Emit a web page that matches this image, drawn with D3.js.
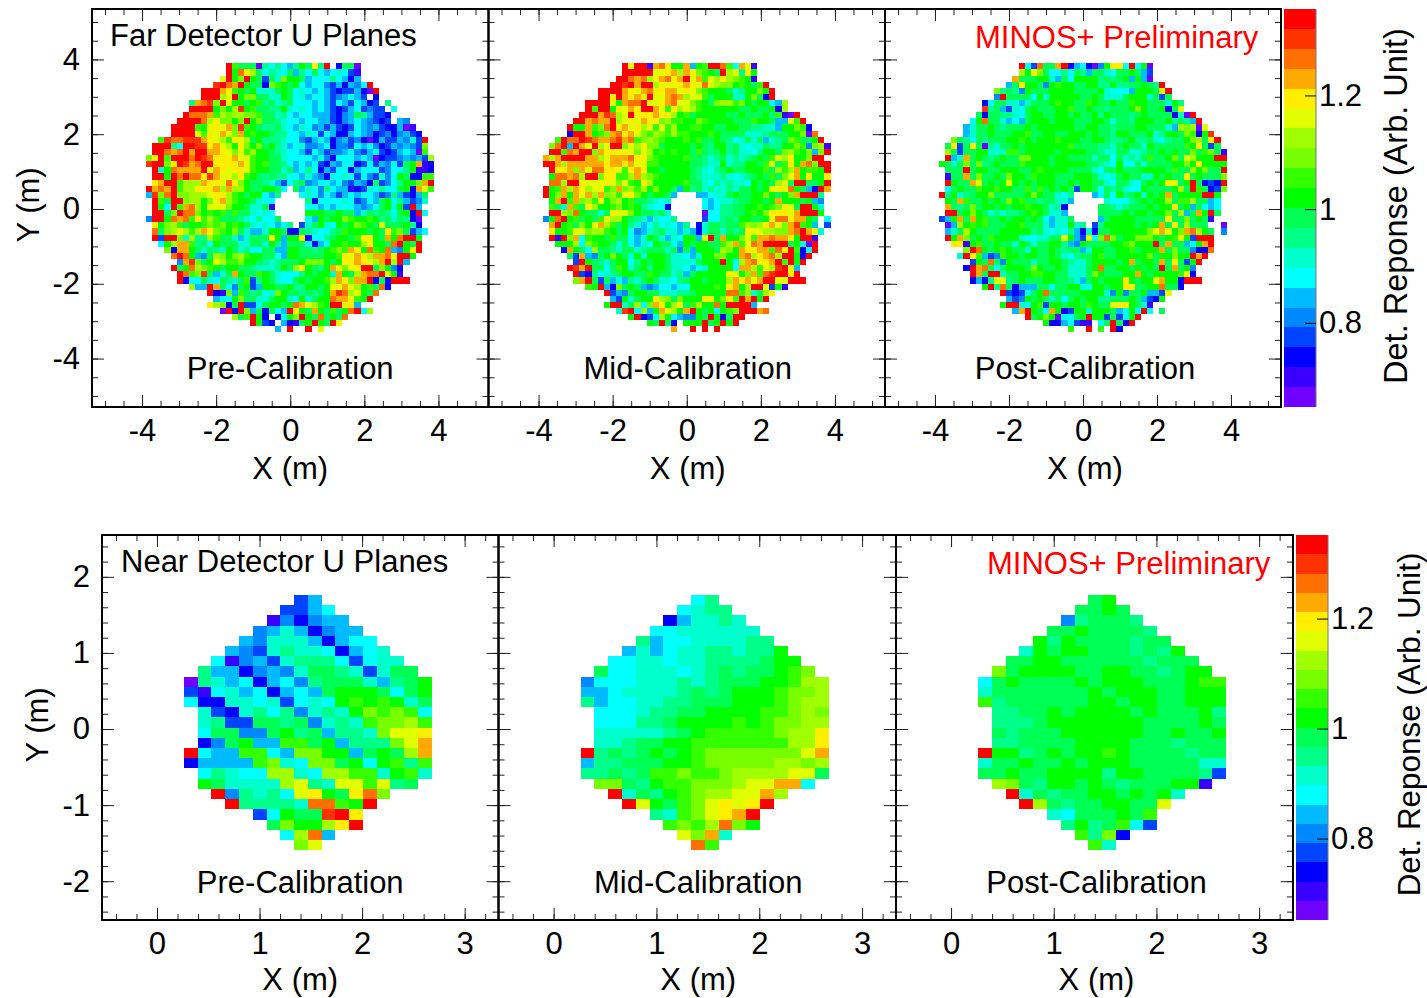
<!DOCTYPE html>
<html>
<head>
<meta charset="utf-8">
<title>MINOS+ calibration</title>
<script src="https://cdn.jsdelivr.net/npm/d3@7"></script>
<style>
    body { margin: 0; background: #fff; }
    text { font-family: "Liberation Sans", Arial, sans-serif; fill: #000; }
</style>
</head>
<body>
<svg id="chart" width="1427" height="998"></svg>
<script>
// colour levels of the z axis, bottom of the palette first
const palette = ['#7000ff', '#3a00ff', '#0000ff', '#0044ff', '#0088ff', '#00bbff', '#00ffff', '#00ffcc', '#00ff88', '#00ff55',
    '#00ff00', '#33ff00', '#77ff00', '#a0ff00', '#e0ff00', '#ffee00', '#ffaa00', '#ff7000', '#ff3300', '#ff0000'];
const levelCodes = 'abcdefghijklmnopqrst'; // one letter per palette level, '.' = no data
const zRange = [0.652, 1.352];
const zTicks = [0.8, 1, 1.2];

const stageNames = ['Pre-Calibration', 'Mid-Calibration', 'Post-Calibration'];

const farXTicks = [-4, -2, 0, 2, 4];
const farYTicks = [-4, -2, 0, 2, 4];
const nearXTicks = [0, 1, 2, 3];
const nearYTicks = [-2, -1, 0, 1, 2];

// top row first (spaces only to help counting columns)
const farPre = [
    '.......... ...tljjjai gigfikjpit .cjja',
    '.......... ...tkrpnjg ihgjfigjgf ghgdb',
    '.......... ..otkmtkjd jhmkkjfggg igfcf',
    '.......... .strqtkjjc mlkjkgfgge dfcfegt',
    '.........t ttqplkjkhh hjkjghgfgf dcddfcat',
    '.........t ttnotkmmjj hhkjghfggf defgfd.c',
    '.......iqr smtokkjkli jhijgggfgf dgfdgfcd.i',
    '.......ttt tkmknskljj iikhghgfgf dcdfgdedd. g',
    '......trrr qlnmnnmmlj jhigfggfff dcefjifddc',
    '.....ttttr npmmkmtkmj jihggfggff dcefgfedcd .fe',
    '....ttttlk opoqmslkji ijhgfhgefd fdcdgfefdc cfab',
    '....ttttol poqomqklkk jiiggfhgdg fccfgfecde cefdc',
    '..lsrrsssq ponlponjki iihggedfgf cefdecacfd dfehdt',
    '.tttigttss pqonkpmkmj kihfgheefg ceedgfgecd fefedm',
    '.ttrqrtqtt qqpomolnkk jihggfdgfd eefgedfgdc dfgfal',
    'mptltttrts rpppqoolkk jjhggggfhe cgggfgfacd defefdn',
    'sttmptsqrt tppppqolkl jjigfgfgdc feggcdgdfe gdjkqbc',
    '.thkrqqqqt oqpoppolkk jjhjfgigcf dggcfgggde ggikbbc',
    '.ttktrtrrp sqoonplkji jiiggfhfec gghgdgedhe gkjccll',
    '.pqttlnnnq pporpmkjji hfdgijefgg fgedfecjde gikkmqt',
    'tqrqtlnnpp pqnqnnkjjk kjg.jfhgei gffbcdhgig gjkcqol',
    'fsmrtmmnnn oppnlkjkkg fi...ghgeg fdfgfggfde ifdcfj',
    '.tljttmnnk mpqnlkkjhg g.....icgg gghgdegfjk gifdeh',
    '.tkgtlqrnk ooomkkjhhj b.....ggfg fgggfefgjk hkdtf',
    '.ttjmtrrmk lkljljjhgh g.....kkkj jkjjfhjiji gjkctg',
    'ettkrqrlpl nljjjihgig gj....gfkj kkmlkklkij hjica',
    '.pkmnljkkl mlmklkjhgh gfgi.dhjkh gkjkmlkjoj jjkic',
    '.rjmnpnlnq pmlkmjhffh kkjccjihgg ijlkkkjkjp lmjdfg',
    '.tdttmhnii nljjhfhjjj pkfkkpcggi jkkjlppkjq krttk',
    '..gknqqlij gkjjjhhjjh kifjjjgcfg kklkknpkkj rtkjt',
    '...mcqqkjh jihkjhiggj jffkkjjijk lmlqpkrlkr fekpt',
    '....rtrkfe jnmkmnlkkj jgfkkjjjjk klpoqpnqqr pttk',
    '.....eqsmj konllmkkji hijjjkmmmk jkppqponqt ntf',
    '....tjkrnm lkjkkjjihh hikjnpkjik qomopttjmk ec',
    '.....trlms jfhjqkjjlk jhgggikjkk hqkjnqrrto kb',
    '.....tcggj hgjihjldik jhggjkjkkl nqpmqqtcjc ttt',
    '.......nff tqjgejkdfk kjjkiikkjk ooqonkljrc',
    '.......... tcbmfljijg hmkjjijijk qsrnokjr',
    '.......... .fggkmjjhh jkkhgkhjkk rqqplkt',
    '.......... pnmcjtddgj kkjkrqonlk ttppf',
    '.......... ..atctmfjc jgftpkjqkj ljkrtgn',
    '.......... ....njltkc .cgkmtkjrj kjr',
    '.......... .......tkd c.fcbjktkj tp',
    '.......... .......... .f.t..t.o.'
];

const farMid = [
    '.......... ...tottbqr pkkqfklttr lgqob',
    '.......... ...tttttoo pqnqpmlkjt noipk',
    '.......... ..ttrqrnpq rpqtoqlonp nmlkb',
    '.......... .ttstqttnp oopqporonm mklkjlt',
    '.........t tttqpoqrpp qqopomlkkk jhikkmkt',
    '.........t tptqpqptoo qrqnooljkk khhkmjct',
    '.......ttt tokqrrtoop qroomlkjmn nlmkjkkgfn',
    '.......tlt tkpoqpttqo lpnonlkkkk kkjjkjjkcn',
    '......tttq srnotpppqp pnkljkkkkk jjkjjjkilb at',
    '.....ttqrq qtnopoqppm nllkkmlkkk kjjjlkkjff olt',
    '....tkkqlm rtpqopnolo lnkkllkkjj kkjjiihhfk kmlc',
    '....cttqkl mqrpqomlnm lnllkkklkj jjjhhhijjj kkmar',
    '..ltrrtsrq qrsqrlmnml kkklkljjkj ighjhjfhij mljjkt',
    '.mrtftqotn ottmonpmmj kkkkjkjikk ijhghhjiik kmlemnb',
    '.ttlrqttmq ppopomonkl klkkjljijk ijhhgikkjm nlkmfmt',
    'qnqttttqqn oqqqrppmlk kkkljjihij hihijkjlon pkkmtt',
    'ttqnqqqqqq pqqpqoollk kkkkjjihhk hiikkjlojl pkqrmtt',
    '.tppqmqorr ppolpqpkkj kkkkjihgij kjjkkkljnl nqkllkt',
    '.krrqrnttm ppllnqnmlk kkkkjihhhi hghijkjljm oqkpkkp',
    '.rrnttpooo pomolkpnkk kkkljjhgih ihhgkjkjno jttjjkt',
    'tklqnqpnop lmqmnlnkmk kjfkijhihh ihjjkjkopo rkjfctq',
    'tkmqkqoqnq mnlopmkjkk jf...ffghh jkjjkkmkjk mqttti',
    '.kqtlqmnlo kmnkljjihg h.....gfgh hijjkkjkqk kkjkfe',
    '.ljhqljpnk klmklkihgg c.....gfgi ijjkklklmp ojttkh',
    '.ttnmrkjjh jpoomkjjij h.....aggi ijjklkmppp oqtttk',
    'ekrtkljkjl pnnkjihfhg gi....dggi jikkjjkorr pqqkj.g',
    '.qtkljmkoq nljkihfgig hgfi.chjji jjlnmnpqom qslkf.d',
    '.pkkloomnn lkjkgefhij hhfhfchjjh jijpoonnmm qrtqoh',
    '.tbtmqglkk jljjgfhkjh fhgkkfotjq kkmolqqrqq pkttb',
    '..kkkngmlk kjhjgfhgkj jgfkjkkjjl nqlorqtttt jkhat',
    '...cqkjgnj jihjjhijjj hjejfkkkjn mkqppqqlrp tlcgt',
    '....jdqfej kmkjhkhkkk jhhgfhkkmm kkqrnpqrnt tkct',
    '.....dtkji hjkkgikjkk jhhhhjkkkt kgnqrppqtl tkt',
    '....tsqtjj gjlkhjkikk jhhgfghkkk kgqqnlonst of',
    '.....tdcig hijkkjjlkj jhifjkkkkk pokmqlrstt pt',
    '.....mqtjd jfgfihjkjh hgijkkjkkk nqpqoqttoo ttt',
    '.......lkt fcmjkjfefg gfggkkkklk pqknttodkb',
    '.......... tdfejkkjjh hhiijkkkkk rrlnhjnp',
    '.......... .fdkhjkkpn mjmkkkppkm pltqtkt',
    '.......... ktthjngmqp knpjlnkkrk ttttf',
    '.......... ..hstgnfkq onkqtkjkgk lmtttqr',
    '.......... ....ktcdgn kgfeekjtkc jtt',
    '.......... .......kjt jc.kkktjkt kt',
    '.......... .......... .q..t.t.t.'
];

const farPost = [
    '.......... ...tgdrjjq tcfgcaekpp gtgka',
    '.......... ...nkpmjgg igjifjjhgj jkjfd',
    '.......... ..qjjjkkhf jgkkkkijij kfkfa',
    '.......... .fjpkkjekl kkjjkkiiki ijjkjit',
    '.........m ijiekjjjkk kkjjjjkhgg gfkkkjot',
    '.........e tjjjjgkhkk kkkjjkjhhh jkkkhjdj',
    '.......cgj jhhfhjjjkl kkjjlkjjkj jlkkjjjhki',
    '.......sij fdhgjkjjjk kljjkjjijj jkmkjjkcjo',
    '......jcjj iihgjkkjjk kjkjjkikjj jijkjjjjch at',
    '.....gkrjj hfgfjkkkjk kkjjjkkjhj jikkkjjkij ift',
    '....fhjjkj ijjjkjkkkk kkjjkkjjij jjkkjjjhfn mnao',
    '....fhjjkj jjkkljjkkj jkkkjkjjik kjjjkhikkj mlcks',
    '..mjigjijj jkklkjkkkl kkkjjkkjii jkiijhgijj kmnjpt',
    '.jpdjpjaih jjkjkkkkkk kljjjjiihj kjjhkjjjjj lkpjdj',
    '.njdjjkkhh hlljkkkkkj kkkkjjihhj jhhijjkjkj jmjlmjb',
    '.tfhqjkjij kjjmmkkkjk kjjjjhjjgj hihjljjkmj onkkktt',
    'kjhjmjmijk jjjlkkkkjk kkkkjjihgk ggjhjjjjkk mkpkkkk',
    '.jjjtjkkjj kkkjjklkkk kjjjjhgjjk jjjkkkkjlj jnkmjjt',
    '.bjjqjmjjk jmkkjlkkkj jjkkkjhghj kjjhhkjkjj pjkjjjm',
    '.tkjjqojkj kokjkjkkkj jkjkkjjhgj jhgjkjkpoj ktjcdct',
    '.gjkjjlkkl kkjjljljkj kjdkkjgjij hggkjjjjkn jtljcdm',
    'tikhijkkmj jjjjkmkjjh gi...fgjgk ijkhkjkqjk kkkttk',
    '.kjqljjkjk jmkljjijjh hf.....hgg gijkjkknjl lnjjfg',
    '.qjijmjkkj kjkklkkjhi c.....jjih ijjjkjkkpj kfjgfg',
    '.ttjkmkjhi hiijklkjhh f.....jjjj kjkkjkkmjn fjqktj',
    'dfkqjqkljj kjkkjkjgfh hj....fjkk kkjjjjjpjj mjkjb',
    '.afnklkljj jkkljjjhfh hkhi.dikkk kkjkjkqjpj njjj..a',
    '.fhjnkjjjj kkkkkijhgh gifchcjjkk kkkkmoqokm qrnkj.e',
    '.tkqmjkjlk kkkhgghhjj okfdogmrmj kkmmmkjklo kdttt',
    '..ppbkljjk jjhkjhjjkk ifekjjjjkk lmkkktjqjj fgkqt',
    '....mtrkjk lkjjhkjjkj ijjfhkkjjk kljkkkqjmj jeccr',
    '...htplfde lkkjkkjjkj hgijjkljjk kkkkmjkkmk ktqt',
    '.....dkjrj ekjjjhjjkk jihhjkkkkj kqjkkjqjpj dkt',
    '....ctqrjg jkkkjmkjjk jhhhjkrjjk kjkjkjtjqj ke',
    '.....tqjtt hjjkkllkkj jhhhjmkjjj kkqkjkkkkl oc',
    '.....cfcio oijkjjjkkj jihfjkjkkk pkjkkoqkkc ttt',
    '.......kti rjcfffjjgj jkkhgkkjkk ppjjkkrjjc',
    '.......... tdcdgjkrjj jjjkkkkhek ejjkffdo',
    '.......... .fdekjkjhj gjkjkkiijj jkjfdck',
    '.......... ktthgkldkk jkkjlkjjop pkjhb',
    '.......... ..fqtkjgqk cdkkhkkkjf gkgtg.j',
    '.......... ....tjkmka ggjktkkdjd gkt',
    '.......... .......kcc fgdbb.gjtj ct',
    '.......... .......... .l..t.l.tc'
];

const nearPre = [
    '........df........',
    '.......ddfg.......',
    '......beceff......',
    '.....efhfceff.....',
    '....fehhhfcfgg....',
    '...fedhihhgcfgh...',
    '..gbefdhiiigdghh..',
    '.iffcefehjjihdhjj.',
    'aihfgcfgeijjjhfijk',
    'dbghfgcfgfjkkkjgjk',
    'gcchhghdghgklklkhj',
    '.hdchigiehihkmlmlg',
    '.hiddjjijehihlmmnl',
    '.gjjeejkijfiihmoop',
    '.cejkfflljkfiiimoq',
    'tgffllgfmmkkfjkjnq',
    'cfffflmhgmmjkgklil',
    '.gihggnnhgnnllhklh',
    '.kjhhhhnoihooloij.',
    '..teihigopkjprm...',
    '...tiiiihrrlkt....',
    '.....dgkjjstp.....',
    '......jmkknpt.....',
    '.......gnrf.......',
    '........mo........'
];

const nearMid = [
    '........gi........',
    '.......ghii.......',
    '......cfhhih......',
    '.....gghhhhhh.....',
    '....ifgghhhhii....',
    '...fhfghhiihiik...',
    '..gghhghhiiiijkk..',
    '.jgghhhghijijjklm.',
    'eggghhhihijjjkklnn',
    'ffghhhhijijkkklmmn',
    'ifgghhiijjjkkklmnn',
    '.ggghiijjkkkkllmnm',
    '.gggiijkkkklklmmnn',
    '.hhhhhijklllllmnnp',
    '.hhijjkklllllllnnp',
    'tijijkjklmmmmmmmoq',
    'fiijjjkklmmmmmnnmn',
    'iijijllmllmnnnnooj',
    '.mmjikllmmmnooqqg.',
    '..thjiklmnnooqn...',
    '...tokjlmopopt....',
    '.....ihlmopqt.....',
    '......lmlnrmk.....',
    '.......omqh.......',
    '........rl........'
];

const nearPost = [
    '........jk........',
    '.......jjkj.......',
    '......eijjji......',
    '.....jjkjjjji.....',
    '....kikjjjjijj....',
    '...hkjkkjjjijik...',
    '..jjkkjjjjjjijjj..',
    '.mjkkkkjjkkjjijkk.',
    'gjkjjjjkjkkkjjjkll',
    'hjjjjjjjkjkkkjjkkk',
    'lijjjjjjkkjkkjjkkk',
    '.iijjkjkkkkjkjjjki',
    '.iiijkkkkkkkjjjjkj',
    '.jijjjkkkkkkjjkjjk',
    '.iijjjjkkkkjjjijjj',
    'tkkijkjkklkjjjjijj',
    'hjjkjjkjkkkjjjjjhh',
    'jjkjjkkkkikkjjjjid',
    '.nmjikkjkjijjjkkb.',
    '..thjijjkkjkjkh...',
    '...tnjijjkkjjo....',
    '.....hgjjjkjl.....',
    '......ikijlgd.....',
    '.......limc.......',
    '........lh........'
];

const svg = d3.select('#chart');

const zColor = d3.scaleQuantize().domain(zRange).range(palette);
const zStep = (zRange[1] - zRange[0]) / palette.length;

function parseCells(rows, grid) {
    let cells = [];
    rows.forEach((row, r) => {
        row.replace(/ /g, '').split('').forEach((ch, c) => {
            if (ch === '.') return;
            cells.push({
                x: grid.x0 + c * grid.dx,
                y: grid.y0 - r * grid.dy,
                z: zRange[0] + (levelCodes.indexOf(ch) + 0.5) * zStep
            });
        });
    });
    return cells;
}

// ROOT style frame: ticks point inwards on all four sides, numbers only left and bottom
function drawPanel(cfg, i) {
    let left = cfg.left[i],
        right = cfg.left[i + 1];
    let x = d3.scaleLinear().domain(cfg.xDomain).range([left, right]);
    let y = d3.scaleLinear().domain(cfg.yDomain).range([cfg.bottom, cfg.top]);
    let g = svg.append('g');

    g.selectAll('rect.cell')
        .data(parseCells(cfg.rows[i], cfg.grid))
        .join('rect')
        .attr('class', 'cell')
        .attr('x', d => x(d.x))
        .attr('y', d => y(d.y))
        .attr('width', d => x(d.x + cfg.grid.dx) - x(d.x))
        .attr('height', d => y(d.y - cfg.grid.dy) - y(d.y))
        .attr('fill', d => zColor(d.z))
        .attr('shape-rendering', 'crispEdges');

    let ticks = (axis, values, size, pos, labels) => {
        let a = g.append('g')
            .attr('transform', pos)
            .call(axis.tickValues(values).tickSize(size).tickPadding(12)
                .tickFormat(labels ? d => String(d) : ''));
        a.select('.domain').remove();
        a.selectAll('line').attr('stroke', '#222').attr('stroke-width', 1);
        a.selectAll('text').attr('font-size', 31).attr('font-family', '"Liberation Sans"');
    };

    let xMinor = d3.range(cfg.xDomain[0], cfg.xDomain[1], 0.001).map(v => +v.toFixed(3))
        .filter(v => Math.abs(v / cfg.minor - Math.round(v / cfg.minor)) < 1e-6);
    let yMinor = d3.range(cfg.yDomain[0], cfg.yDomain[1], 0.001).map(v => +v.toFixed(3))
        .filter(v => Math.abs(v / cfg.minor - Math.round(v / cfg.minor)) < 1e-6);

    ticks(d3.axisBottom(x), xMinor, -6, `translate(0,${cfg.bottom})`, false);
    ticks(d3.axisTop(x), xMinor, -6, `translate(0,${cfg.top})`, false);
    ticks(d3.axisLeft(y), yMinor, -6, `translate(${left},0)`, false);
    ticks(d3.axisRight(y), yMinor, -6, `translate(${right},0)`, false);

    ticks(d3.axisBottom(x), cfg.xTicks, -12, `translate(0,${cfg.bottom})`, true);
    ticks(d3.axisTop(x), cfg.xTicks, -12, `translate(0,${cfg.top})`, false);
    ticks(d3.axisLeft(y), cfg.yTicks, -12, `translate(${left},0)`, i === 0);
    ticks(d3.axisRight(y), cfg.yTicks, -12, `translate(${right},0)`, false);

    g.append('rect')
        .attr('x', left).attr('y', cfg.top)
        .attr('width', right - left).attr('height', cfg.bottom - cfg.top)
        .attr('fill', 'none').attr('stroke', '#000').attr('stroke-width', 2);

    let mid = (left + right) / 2 + i;
    g.append('text').attr('x', mid).attr('y', cfg.stageY)
        .attr('text-anchor', 'middle').attr('font-size', 31).text(stageNames[i]);
    g.append('text').attr('x', mid).attr('y', cfg.xLabelY)
        .attr('text-anchor', 'middle').attr('font-size', 31).text('X (m)');
}

function drawColorBar(cfg) {
    let z = d3.scaleLinear().domain(zRange).range([cfg.bottom, cfg.top]);
    let g = svg.append('g');
    g.selectAll('rect')
        .data(palette)
        .join('rect')
        .attr('x', cfg.barLeft)
        .attr('width', cfg.barWidth)
        .attr('y', (d, i) => z(zRange[0] + (i + 1) * zStep))
        .attr('height', (d, i) => z(zRange[0] + i * zStep) - z(zRange[0] + (i + 1) * zStep))
        .attr('fill', d => d)
        .attr('shape-rendering', 'crispEdges');
    let a = g.append('g')
        .attr('transform', `translate(${cfg.barLeft + cfg.barWidth},0)`)
        .call(d3.axisRight(z).tickValues(zTicks).tickSize(-11).tickPadding(3).tickFormat(d => String(d)));
    a.select('.domain').attr('stroke', '#777').attr('stroke-width', 1).attr('d', `M0,${cfg.top}V${cfg.bottom}`);
    a.selectAll('text').attr('font-size', 31).attr('font-family', '"Liberation Sans"');
    g.append('text')
        .attr('transform', `translate(${cfg.titleX},${(cfg.top + cfg.bottom) / 2 + cfg.titleShift}) rotate(-90)`)
        .attr('text-anchor', 'middle').attr('font-size', cfg.titleSize).text('Det. Reponse (Arb. Unit)');
}

function drawDetector(cfg) {
    stageNames.forEach((s, i) => drawPanel(cfg, i));
    drawColorBar(cfg);
    svg.append('text').attr('x', cfg.nameX).attr('y', cfg.nameY).attr('font-size', 31).text(cfg.name);
    svg.append('text').attr('x', cfg.prelimX).attr('y', cfg.prelimY).attr('font-size', 31)
        .style('fill', '#ff0000').text('MINOS+ Preliminary');
    svg.append('text')
        .attr('transform', `translate(${cfg.yLabelX},${cfg.yLabelY}) rotate(-90)`)
        .attr('text-anchor', 'middle').attr('font-size', 31).text('Y (m)');
}

drawDetector({
    name: 'Far Detector U Planes', nameX: 110, nameY: 46,
    prelimX: 975, prelimY: 48,
    yLabelX: 39, yLabelY: 205,
    left: [92, 488.5, 885, 1281],
    top: 9, bottom: 407,
    xDomain: [-5.351, 5.351], yDomain: [-5.295, 5.348],
    xTicks: farXTicks, yTicks: farYTicks, minor: 0.5,
    grid: { x0: -3.892, y0: 3.896, dx: 0.1654, dy: 0.1636 },
    rows: [farPre, farMid, farPost],
    stageY: 379, xLabelY: 479,
    barLeft: 1284, barWidth: 32, titleX: 1407, titleShift: -2, titleSize: 32.5
});

drawDetector({
    name: 'Near Detector U Planes', nameX: 121, nameY: 572,
    prelimX: 987, prelimY: 574,
    yLabelX: 48, yLabelY: 725,
    left: [102, 498.5, 896, 1293],
    top: 535, bottom: 920,
    xDomain: [-0.536, 3.33], yDomain: [-2.51, 2.55],
    xTicks: nearXTicks, yTicks: nearYTicks, minor: 0.2,
    grid: { x0: 0.263, y0: 1.763, dx: 0.1342, dy: 0.1342 },
    rows: [nearPre, nearMid, nearPost],
    stageY: 893, xLabelY: 990,
    barLeft: 1296, barWidth: 32, titleX: 1420, titleShift: -3, titleSize: 31.4
});
</script>
</body>
</html>
